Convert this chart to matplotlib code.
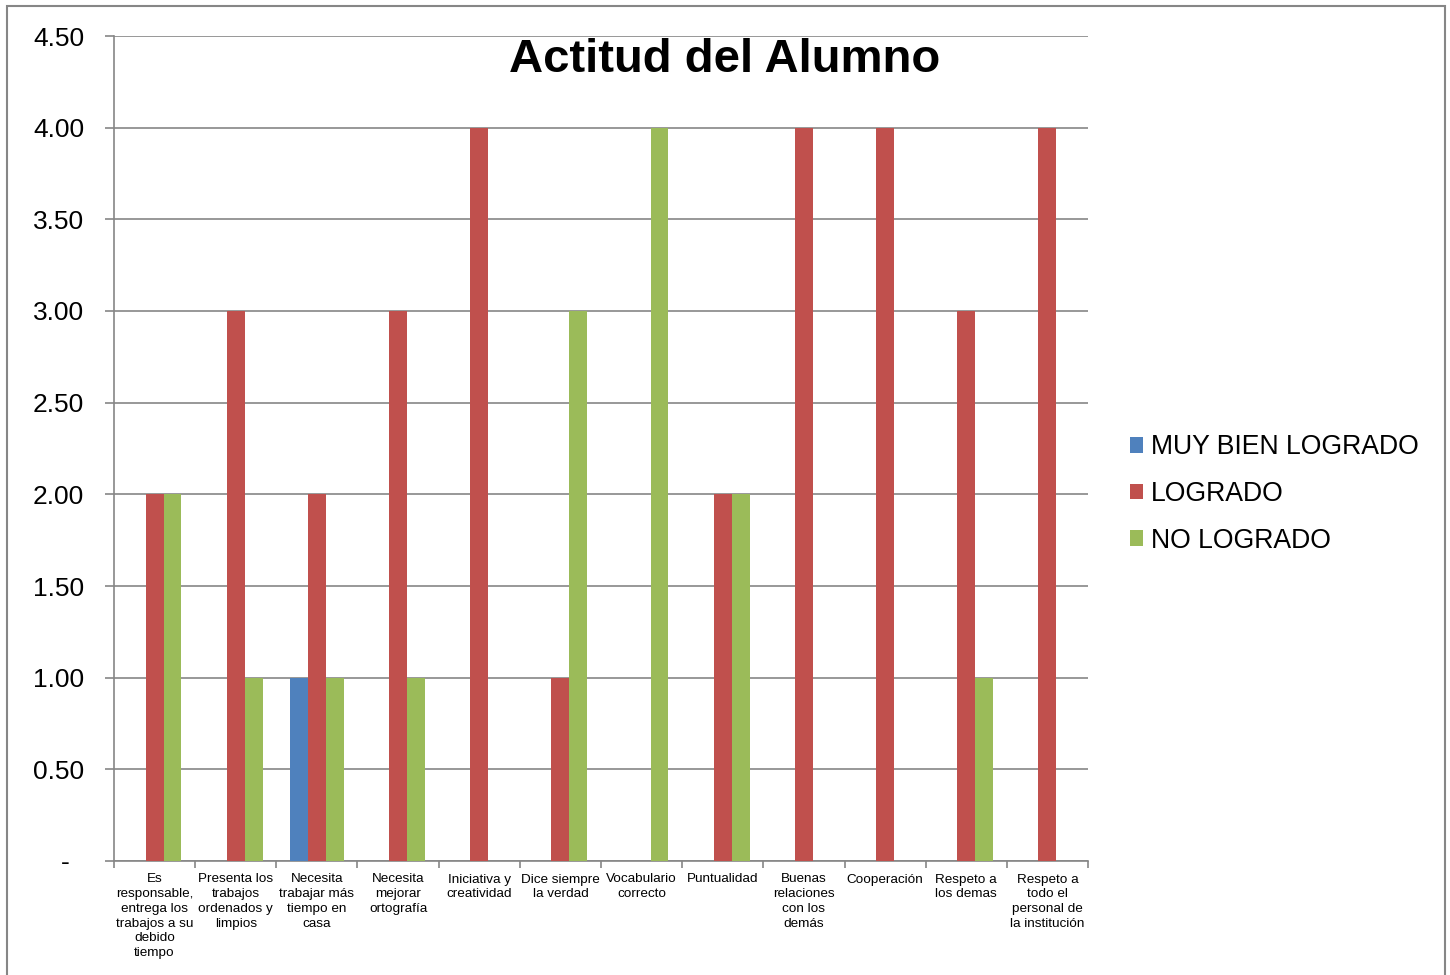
import numpy as np
import matplotlib.pyplot as plt
from matplotlib.patches import Rectangle

plt.rcParams["font.family"] = ["Liberation Sans", "DejaVu Sans"]

# data
categories = [
    "Es\nresponsable,\nentrega los\ntrabajos a su\ndebido\ntiempo",
    "Presenta los\ntrabajos\nordenados y\nlimpios",
    "Necesita\ntrabajar más\ntiempo en\ncasa",
    "Necesita\nmejorar\nortografía",
    "Iniciativa y\ncreatividad",
    "Dice siempre\nla verdad",
    "Vocabulario\ncorrecto",
    "Puntualidad",
    "Buenas\nrelaciones\ncon los\ndemás",
    "Cooperación",
    "Respeto a\nlos demas",
    "Respeto a\ntodo el\npersonal de\nla institución",
]
muy_bien = [0, 0, 1, 0, 0, 0, 0, 0, 0, 0, 0, 0]
logrado = [2, 3, 2, 3, 4, 1, 0, 2, 4, 4, 3, 4]
no_logrado = [2, 1, 1, 1, 0, 3, 4, 2, 0, 0, 1, 0]
series_names = ["MUY BIEN LOGRADO", "LOGRADO", "NO LOGRADO"]
colors = ["#4F81BD", "#C0504D", "#9BBB59"]

fig = plt.figure(figsize=(14.5, 9.75), dpi=100)
ax = fig.add_axes([114 / 1450, 1 - 861 / 975, 974 / 1450, 825 / 975])

x = np.arange(len(categories))
w = 0.22
for i, (vals, name, c) in enumerate(zip([muy_bien, logrado, no_logrado], series_names, colors)):
    ax.bar(x + (i - 1) * w, vals, width=w, color=c, label=name, zorder=3)

ax.set_xlim(-0.5, len(categories) - 0.5)
ax.set_ylim(0, 4.5)
yt = np.arange(0, 4.51, 0.5)
ax.set_yticks(yt)
ax.set_yticklabels(["-  "] + [f"{v:.2f}" for v in yt[1:]], fontsize=19)
ax.yaxis.grid(True, color="#868686", linewidth=1.2, zorder=0)

ax.set_xticks(x)
ax.set_xticklabels(categories, fontsize=9.7, linespacing=1.3, va="top")
ax.tick_params(axis="x", length=0, pad=9)
ax.set_xticks(np.arange(-0.5, len(categories), 1), minor=True)
ax.tick_params(axis="x", which="minor", length=5, color="#868686", width=1.2, direction="out")
ax.tick_params(axis="y", length=6.5, color="#868686", width=1.2, direction="out", pad=15)

for s in ["top", "right"]:
    ax.spines[s].set_visible(False)
for s in ["left", "bottom"]:
    ax.spines[s].set_color("#868686")
    ax.spines[s].set_linewidth(1.2)

fig.text(0.5, 1 - 60 / 975, "Actitud del Alumno", fontsize=34, fontweight="bold",
         ha="center", va="center")

leg = fig.legend(loc="center left", bbox_to_anchor=(1106 / 1450, 1 - 494 / 975),
                 frameon=False, fontsize=19.2, handlelength=0.5, handleheight=0.5,
                 handletextpad=0.3, labelspacing=0.77)

fig.patches.append(Rectangle((7 / 1450, -0.01), 1438 / 1450, 1.01 - 6 / 975,
                             transform=fig.transFigure, fill=False,
                             edgecolor="#868686", linewidth=1.5))

fig.savefig("out.png", dpi=100)
